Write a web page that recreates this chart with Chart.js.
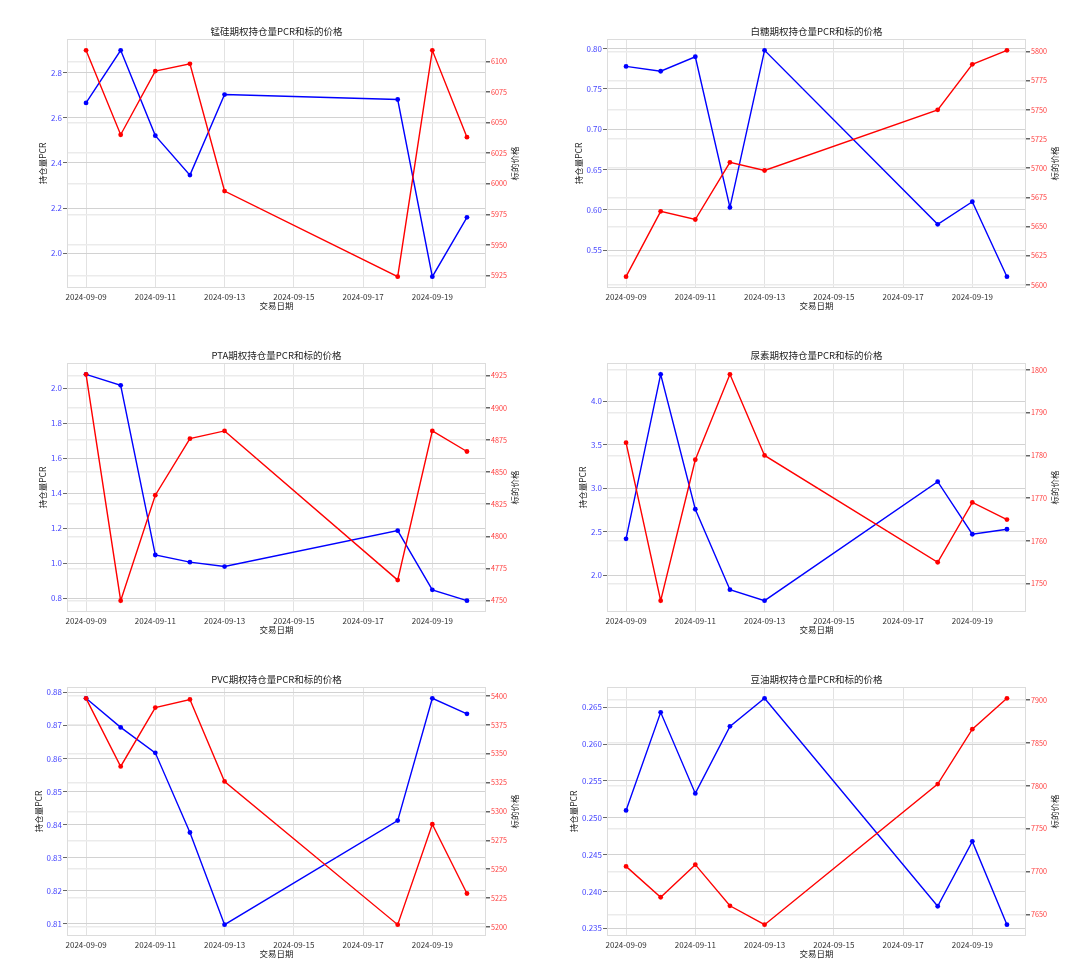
<!DOCTYPE html>
<html>
<head>
<meta charset="utf-8">
<script src="https://cdn.jsdelivr.net/npm/chart.js@4.4.1/dist/chart.umd.min.js"></script>
<style>
  body { margin: 0; background: #fff; }
  #wrap { position: relative; width: 1080px; height: 972px; }
  #wrap canvas { position: absolute; }
</style>
</head>
<body>
<div id="wrap"></div>
<script>
// dados (8 pregoes, 6 contratos)
const dates = ['2024-09-09', '2024-09-10', '2024-09-11', '2024-09-12', '2024-09-13', '2024-09-18', '2024-09-19', '2024-09-20'];
const dateTicks = ['2024-09-09', '2024-09-11', '2024-09-13', '2024-09-15', '2024-09-17', '2024-09-19'];

const titles = ['锰硅期权持仓量PCR和标的价格', '白糖期权持仓量PCR和标的价格', 'PTA期权持仓量PCR和标的价格',
  '尿素期权持仓量PCR和标的价格', 'PVC期权持仓量PCR和标的价格', '豆油期权持仓量PCR和标的价格'];

const smPcr = [2.666, 2.899, 2.521, 2.346, 2.703, 2.681, 1.896, 2.159];
const smPrice = [6109, 6040, 6092, 6098, 5994, 5924, 6109, 6038];
const smPcrTicks = ['2.0', '2.2', '2.4', '2.6', '2.8'];
const smPriceTicks = ['5925', '5950', '5975', '6000', '6025', '6050', '6075', '6100'];

const srPcr = [0.778, 0.772, 0.790, 0.603, 0.798, 0.582, 0.610, 0.517];
const srPrice = [5607, 5663, 5656, 5705, 5698, 5750, 5789, 5801];
const srPcrTicks = ['0.55', '0.60', '0.65', '0.70', '0.75', '0.80'];
const srPriceTicks = ['5600', '5625', '5650', '5675', '5700', '5725', '5750', '5775', '5800'];

const taPcr = [2.080, 2.017, 1.048, 1.007, 0.982, 1.187, 0.849, 0.787];
const taPrice = [4926, 4750, 4832, 4876, 4882, 4766, 4882, 4866];
const taPcrTicks = ['0.8', '1.0', '1.2', '1.4', '1.6', '1.8', '2.0'];
const taPriceTicks = ['4750', '4775', '4800', '4825', '4850', '4875', '4900', '4925'];

const urPcr = [2.420, 4.309, 2.760, 1.836, 1.710, 3.076, 2.473, 2.530];
const urPrice = [1783, 1746, 1779, 1799, 1780, 1755, 1769, 1765];
const urPcrTicks = ['2.0', '2.5', '3.0', '3.5', '4.0'];
const urPriceTicks = ['1750', '1760', '1770', '1780', '1790', '1800'];

const vPcr = [0.8782, 0.8694, 0.8617, 0.8376, 0.8097, 0.8412, 0.8782, 0.8735];
const vPrice = [5398, 5339, 5390, 5397, 5326, 5202, 5289, 5229];
const vPcrTicks = ['0.81', '0.82', '0.83', '0.84', '0.85', '0.86', '0.87', '0.88'];
const vPriceTicks = ['5200', '5225', '5250', '5275', '5300', '5325', '5350', '5375', '5400'];

const yPcr = [0.2510, 0.2643, 0.2533, 0.2624, 0.2662, 0.2380, 0.2468, 0.2355];
const yPrice = [7706, 7670, 7708, 7660, 7638, 7802, 7866, 7902];
const yPcrTicks = ['0.235', '0.240', '0.245', '0.250', '0.255', '0.260', '0.265'];
const yPriceTicks = ['7650', '7700', '7750', '7800', '7850', '7900'];

const panels = [
  [smPcr, smPrice, smPcrTicks, smPriceTicks],
  [srPcr, srPrice, srPcrTicks, srPriceTicks],
  [taPcr, taPrice, taPcrTicks, taPriceTicks],
  [urPcr, urPrice, urPcrTicks, urPriceTicks],
  [vPcr, vPrice, vPcrTicks, vPriceTicks],
  [yPcr, yPrice, yPcrTicks, yPriceTicks],
];

const FONT = '"Noto Sans CJK SC", "Noto Sans", sans-serif';
const DAY = 86400000;
const dayOf = (s) => Date.parse(s) / DAY;
const fmtDay = (v) => new Date(Math.round(v) * DAY).toISOString().slice(0, 10);

// margem de 5% como no matplotlib
function padded(values) {
  const lo = Math.min(...values), hi = Math.max(...values);
  const m = (hi - lo) * 0.05;
  return { min: lo - m, max: hi + m };
}

const days = dates.map(dayOf);
const xRange = padded(days);

const panelText = {
  id: 'panelText',
  beforeDatasetsDraw(chart) {
    const { ctx, chartArea: a } = chart;
    ctx.save();
    ctx.strokeStyle = '#dcdcdc';
    ctx.lineWidth = 1;
    ctx.strokeRect(a.left + 0.5, a.top + 0.5, a.width - 1, a.height - 1);
    ctx.restore();
  },
  afterDraw(chart, args, opts) {
    const { ctx, chartArea: a } = chart;
    const cy = (a.top + a.bottom) / 2;
    ctx.save();
    // rotulo esquerdo acompanha a largura dos ticks (como o matplotlib)
    ctx.font = '8px ' + FONT;
    const tickW = Math.max(...opts.leftTicks.map((t) => ctx.measureText(t).width));
    ctx.textAlign = 'center';
    ctx.textBaseline = 'middle';
    ctx.fillStyle = '#222';
    ctx.font = '9.5px ' + FONT;
    ctx.fillText(opts.title, (a.left + a.right) / 2, 31);
    ctx.font = '8.5px ' + FONT;
    ctx.fillText('交易日期', (a.left + a.right) / 2, 306);
    ctx.translate(a.left - 5 - tickW - 8, cy);
    ctx.rotate(-Math.PI / 2);
    ctx.fillText('持仓量PCR', 0, 0);
    ctx.restore();
    ctx.save();
    ctx.textAlign = 'center';
    ctx.textBaseline = 'middle';
    ctx.fillStyle = '#222';
    ctx.font = '8.5px ' + FONT;
    ctx.translate(515, cy);
    ctx.rotate(-Math.PI / 2);
    ctx.fillText('标的价格', 0, 0);
    ctx.restore();
  },
};

const wrap = document.getElementById('wrap');

panels.forEach(([pcr, price, pcrTicks, priceTicks], i) => {
  const canvas = document.createElement('canvas');
  canvas.width = 540;
  canvas.height = 324;
  canvas.style.left = (i % 2) * 540 + 'px';
  canvas.style.top = Math.floor(i / 2) * 324 + 'px';
  canvas.style.width = '540px';
  canvas.style.height = '324px';
  wrap.appendChild(canvas);

  const pcrRange = padded(pcr);
  const priceRange = padded(price);

  new Chart(canvas, {
    type: 'line',
    data: {
      datasets: [{
        // vermelho primeiro = desenhado por cima (como o twinx)
        data: price.map((v, k) => ({ x: days[k], y: v })),
        yAxisID: 'yR',
        borderColor: '#ff0000',
        backgroundColor: '#ff0000',
        borderWidth: 1.4,
        pointRadius: 2.4,
        pointBorderWidth: 0,
        tension: 0,
      }, {
        data: pcr.map((v, k) => ({ x: days[k], y: v })),
        yAxisID: 'yL',
        borderColor: '#0000ff',
        backgroundColor: '#0000ff',
        borderWidth: 1.4,
        pointRadius: 2.4,
        pointBorderWidth: 0,
        tension: 0,
      }],
    },
    options: {
      responsive: false,
      animation: false,
      layout: { padding: { top: 39, left: 0, right: 0, bottom: 0 } },
      plugins: {
        legend: { display: false },
        tooltip: { enabled: false },
        panelText: { title: titles[i], leftTicks: pcrTicks },
      },
      scales: {
        x: {
          type: 'linear',
          min: xRange.min,
          max: xRange.max,
          afterBuildTicks: (s) => { s.ticks = dateTicks.map((d) => ({ value: dayOf(d) })); },
          afterFit: (s) => { s.height = 36; },
          grid: { color: '#e2e2e2', lineWidth: 1, drawTicks: false },
          border: { display: false },
          ticks: { padding: 4, color: '#333', font: { family: FONT, size: 8 }, maxRotation: 0, callback: (v) => fmtDay(v) },
        },
        yL: {
          type: 'linear',
          position: 'left',
          min: pcrRange.min,
          max: pcrRange.max,
          afterBuildTicks: (s) => { s.ticks = pcrTicks.map((t) => ({ value: Number(t) })); },
          afterFit: (s) => { s.width = 67; },
          grid: { color: '#d2d2d2', lineWidth: 1, tickLength: 4, tickColor: '#666' },
          border: { display: false },
          ticks: { padding: 1, color: '#4646ff', font: { family: FONT, size: 8 },
            callback: (v) => pcrTicks.find((t) => Math.abs(Number(t) - v) < 1e-9) || '' },
        },
        yR: {
          type: 'linear',
          position: 'right',
          min: priceRange.min,
          max: priceRange.max,
          afterBuildTicks: (s) => { s.ticks = priceTicks.map((t) => ({ value: Number(t) })); },
          afterFit: (s) => { s.width = 54; },
          grid: { color: '#ebebeb', lineWidth: 1.5, tickLength: 4, tickColor: '#666' },
          border: { display: false },
          ticks: { padding: 1, color: '#ff3a3a', font: { family: FONT, size: 7.2 },
            callback: (v) => priceTicks.find((t) => Math.abs(Number(t) - v) < 1e-9) || '' },
        },
      },
    },
    plugins: [panelText],
  });
});
</script>
</body>
</html>
